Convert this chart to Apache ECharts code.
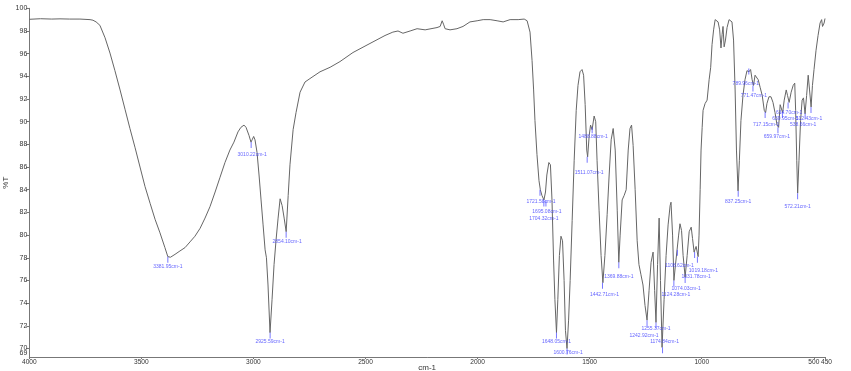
<!DOCTYPE html>
<html>
<head>
<meta charset="utf-8">
<script src="https://cdn.jsdelivr.net/npm/echarts@6/dist/echarts.min.js"></script>
<style>html,body{margin:0;padding:0;background:#fff}#c{width:851px;height:371px}</style>
</head>
<body>
<div id="c"></div>
<script>
// Spectrum: wavenumber (cm-1) and transmittance (%T)
var spectrumWn = [4000,3950,3900,3863,3820,3774,3729,3716,3702,3685,3662,3640,3618,3595,3573,3551,3528,3506,3484,3461,3439,3417,3395,3382,3370,3350,3328,3305,3283,3261,3238,3216,3194,3171,3149,3127,3105,3087,3069,3056,3042,3033,3020,3011,3006,2999,2993,2984,2975,2966,2957,2948,2942,2935,2926,2917,2908,2899,2890,2881,2872,2863,2854,2845,2837,2823,2810,2792,2770,2748,2703,2658,2614,2556,2480,2413,2378,2355,2333,2301,2270,2234,2181,2167,2158,2152,2145,2123,2092,2065,2034,2002,1975,1944,1913,1886,1855,1819,1792,1779,1766,1757,1750,1744,1735,1726,1720,1713,1704,1697,1691,1682,1675,1668,1661,1655,1648,1642,1635,1628,1621,1614,1608,1601,1594,1587,1578,1569,1560,1552,1543,1534,1527,1520,1513,1509,1502,1496,1489,1480,1473,1467,1458,1449,1441,1432,1422,1413,1404,1395,1386,1377,1370,1364,1355,1346,1337,1328,1320,1313,1306,1297,1288,1280,1271,1262,1253,1244,1235,1226,1217,1210,1204,1197,1190,1184,1177,1168,1159,1150,1141,1137,1130,1124,1117,1110,1103,1097,1090,1083,1074,1065,1056,1047,1041,1034,1025,1016,1012,1007,1003,998,994,985,976,967,960,954,947,940,934,927,920,914,909,905,900,894,887,878,871,865,858,851,845,838,832,825,816,807,798,789,782,775,769,762,755,748,739,730,721,715,709,700,691,682,673,664,657,650,646,639,632,623,617,610,601,592,585,581,576,572,566,559,552,546,539,532,525,519,512,506,499,490,481,472,465,461,454,450];
var spectrumT = [99.03,99.08,99.05,99.07,99.05,99.05,99.0,98.95,98.8,98.5,97.4,96.05,94.5,92.8,91.1,89.4,87.7,86.0,84.3,82.8,81.4,80.2,78.9,78.1,78.05,78.3,78.6,78.9,79.4,79.9,80.6,81.5,82.5,83.8,85.1,86.4,87.5,88.2,89.1,89.5,89.7,89.5,88.8,88.2,88.4,88.7,88.4,87.3,85.3,83.1,80.9,78.7,78.0,75.6,71.4,74.3,77.4,79.6,81.5,83.2,82.6,81.5,80.3,83.5,86.2,89.3,90.8,92.6,93.5,93.8,94.4,94.8,95.3,96.1,96.9,97.6,97.9,98.0,97.8,98.0,98.2,98.1,98.3,98.4,98.9,98.6,98.2,98.1,98.2,98.4,98.8,98.9,99.0,99.0,98.9,98.8,99.0,99.0,99.05,98.9,97.9,95.4,92.8,90.1,87.1,84.8,84.0,83.5,83.1,83.8,85.3,86.4,86.2,83.1,77.8,74.3,71.4,74.3,78.2,79.9,79.5,76.0,71.6,70.0,72.5,76.0,81.3,86.6,91.0,93.2,94.4,94.6,94.1,91.5,87.5,86.9,88.8,89.7,89.3,90.5,90.0,86.6,82.2,78.2,75.8,78.2,81.8,85.3,88.4,89.4,87.5,82.2,77.6,80.0,83.1,83.5,84.0,87.5,89.4,89.7,87.9,84.0,79.5,77.4,76.5,75.6,73.8,72.5,75.1,77.6,78.5,75.1,72.3,77.4,81.5,76.0,70.1,74.3,78.2,80.9,82.6,82.9,80.0,76.0,77.4,78.7,80.0,81.0,80.4,78.2,76.3,78.2,80.3,80.7,79.7,78.5,79.0,78.1,80.0,84.0,87.5,89.5,91.0,91.6,91.9,93.7,94.8,96.8,98.1,99.0,99.1,98.8,98.1,96.5,97.7,98.4,96.6,97.2,98.3,99.0,99.1,98.8,97.2,92.8,87.5,83.9,86.6,90.1,92.3,93.7,94.5,94.4,94.6,93.7,93.2,94.1,94.2,93.7,93.0,92.3,91.0,90.8,91.6,92.2,92.2,91.7,90.8,89.7,89.5,91.5,91.6,90.8,91.9,92.8,92.3,91.7,92.6,93.2,93.4,91.0,86.6,83.7,86.6,90.1,91.9,92.1,90.7,92.3,94.1,92.8,91.3,93.2,94.6,96.3,97.6,98.7,99.0,98.4,98.7,99.1];

// Peak annotations
var peakWn = [3381.95,3010.22,2925.59,2854.10,1721.58,1695.08,1704.32,1648.05,1600.76,1511.07,1488.88,1442.71,1369.88,1204,1244,1174.84,1124.28,1108.62,1074.03,1031.78,1019.18,837.25,789.96,771.47,717.15,659.97,639.95,614.70,572.21,538.66,512.43];
var peakT = [78.1,88.2,71.4,80.3,84.0,83.05,83.05,71.4,70.0,86.9,89.5,75.8,77.6,72.3,72.5,70.1,76.0,78.7,76.3,78.5,78.1,83.9,94.7,93.2,90.85,89.5,90.85,91.7,83.7,90.75,91.3];
var peakText = ['3381.95cm-1','3010.22cm-1','2925.59cm-1','2854.10cm-1','1721.58cm-1','1695.08cm-1','1704.32cm-1','1648.05cm-1','1600.76cm-1','1511.07cm-1','1488.88cm-1','1442.71cm-1','1369.88cm-1','1255.37cm-1','1242.92cm-1','1174.84cm-1','1124.28cm-1','1108.62cm-1','1074.03cm-1','1031.78cm-1','1019.18cm-1','837.25cm-1','789.96cm-1','771.47cm-1','717.15cm-1','659.97cm-1','639.95cm-1','614.70cm-1','572.21cm-1','538.66cm-1','512.43cm-1'];

// Axis tick labels
var xTicks = [4000,3500,3000,2500,2000,1500,1000,500];
var xEndTick = [450];
var yTicks = [70,72,74,76,78,80,82,84,86,88,90,92,94,96,98,100];
var yMin = 69.25;
var yMinLabelAt = [69.6];
var yMinLabel = '69';

// Layout: label shifts (px) for peak labels
var labelShift = [[0,0],[1,3],[0,0],[1,0],[1,2],[1,2],[0,9],[0,0],[1,-5],[2,6],[1,0],[2,2],[0,5],[0,-3],[-3,6],[2,-15],[2,5],[2,6],[1,2],[1.5,15],[6,4],[0,1],[-3,6],[1,1],[1,3],[-1,0],[3,-3],[1,1],[0,4],[-2,2],[-2,2]];

var lineData = spectrumWn.map(function(w,i){return [w, spectrumT[i]];});
var peakData = peakWn.map(function(w,i){
  return {value:[w, peakT[i]], name: peakText[i], label:{offset: labelShift[i]}};
});

var font = {fontFamily:'Liberation Sans', fontSize:6.6, color:'#333'};
function xAxisBase(ticks, extra, labelExtra){
  var a = {
    type:'value', inverse:true, min:450, max:4000, position:'bottom',
    axisLine:{show:true, lineStyle:{color:'#777', width:1}},
    axisTick:{show:true, length:2, customValues:ticks, lineStyle:{color:'#777'}},
    axisLabel:Object.assign({customValues:ticks, showMinLabel:true, showMaxLabel:true, margin:2,
      formatter:function(v){return String(v);}}, font, labelExtra || {}),
    splitLine:{show:false}
  };
  return Object.assign(a, extra || {});
}
function yAxisBase(ticks, extra){
  var a = {
    type:'value', min:yMin, max:100, position:'left',
    axisLine:{show:true, lineStyle:{color:'#777', width:1}},
    axisTick:{show:true, length:3, customValues:ticks, lineStyle:{color:'#777'}},
    axisLabel:Object.assign({customValues:ticks, showMinLabel:true, showMaxLabel:true, margin:2,
      formatter:function(v){return v < 70 ? yMinLabel : String(v);}}, font, {fontSize:7}),
    splitLine:{show:false}
  };
  return Object.assign(a, extra || {});
}

var chart = echarts.init(document.getElementById('c'), null, {renderer:'canvas'});
chart.setOption({
  animation:false,
  backgroundColor:'#ffffff',
  grid:{left:29.3, right:26, top:8.3, bottom:14, containLabel:false, outerBoundsMode:'none'},
  xAxis:[
    xAxisBase(xTicks, {name:'cm-1', nameLocation:'middle', nameGap:7, nameMoveOverlap:false,
      nameTextStyle:{fontFamily:'Liberation Sans', fontSize:8, color:'#333', verticalAlign:'top'}}),
    xAxisBase(xEndTick, {axisLine:{show:false}}, {padding:[0,0,0,3]})
  ],
  yAxis:[
    yAxisBase(yTicks, {name:'%T', nameLocation:'middle', nameGap:20, nameRotate:90, nameMoveOverlap:false,
      nameTextStyle:{fontFamily:'Liberation Sans', fontSize:8, color:'#333'}}),
    yAxisBase(yMinLabelAt, {axisLine:{show:false}, axisTick:{show:false}})
  ],
  series:[
    {type:'line', xAxisIndex:0, yAxisIndex:0, data:lineData, showSymbol:false, symbol:'none', smooth:false,
     lineStyle:{color:'#666', width:1}, z:2},
    {type:'scatter', xAxisIndex:0, yAxisIndex:0, data:peakData, symbol:'rect', symbolSize:[1,6], symbolOffset:[0,3],
     itemStyle:{color:'#5555ff'}, z:3,
     label:{show:true, position:'bottom', distance:1, formatter:function(p){return p.name;},
       fontFamily:'Liberation Sans', fontSize:5, color:'#3b3bff'}}
  ]
});
</script>
</body>
</html>
